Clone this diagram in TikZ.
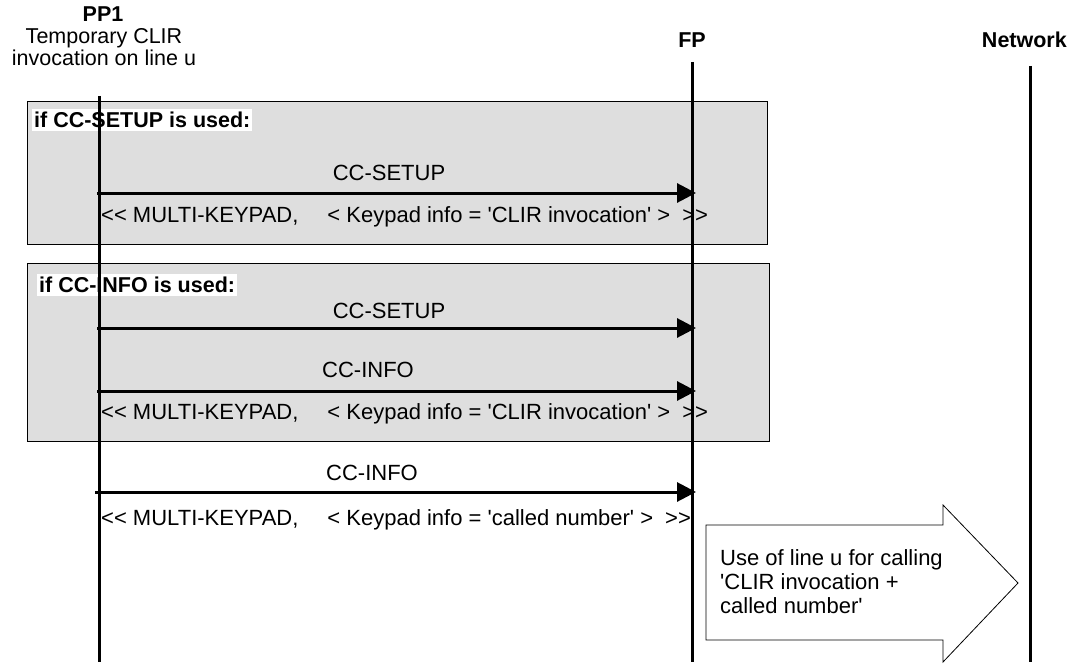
\documentclass[tikz,border=0pt]{standalone}
\usepackage{fontspec}
\setmainfont{Liberation Sans}[Ligatures=TeXOff]
\usetikzlibrary{arrows.meta}
\begin{document}
\begin{tikzpicture}[x=1pt,y=-1pt,
  txt/.style={font=\fontsize{22}{21.5}\selectfont, inner sep=0pt},
  head/.style={font=\fontsize{21.5}{21.5}\selectfont\bfseries, inner sep=0pt, align=center},
  life/.style={line width=3pt},
  grp/.style={draw=black, line width=0.8pt, fill=black!13},
  grplabel/.style={font=\fontsize{21.5}{21.5}\selectfont\bfseries, fill=white, inner xsep=2pt, inner ysep=3pt, anchor=west},
  msg/.style={line width=3pt, -{Triangle[length=19pt,width=19pt]}},
  bigarrow/.style={draw=black, line width=0.8pt, fill=white}]
\useasboundingbox (0,0) rectangle (1070,666);
% groups
\node[grp, minimum width=740pt, minimum height=143pt, anchor=north west, inner sep=0pt] (g1) at (27,101) {};
\node[grp, minimum width=742pt, minimum height=178pt, anchor=north west, inner sep=0pt] (g2) at (27,263) {};
\node[grplabel] (l1) at (32,120) {if CC-SETUP is used:\hspace{4pt}};
\node[grplabel] (l2) at (37,285) {if CC-INFO is used:\hspace{12pt}};
% headers
\node[head] (pp1) at (103,14) {PP1};
\node[font=\fontsize{21.5}{21.5}\selectfont, inner sep=0pt, align=center] (pp1d) at (104,47) {Temporary CLIR\\invocation on line u};
\node[head] (fp) at (692,40) {FP};
\node[head, anchor=east] (nw) at (1067,40) {Network};
% lifelines
\coordinate (pT) at (99,96);  \coordinate (pB) at (99,662);
\coordinate (fT) at (692,62); \coordinate (fB) at (692,662);
\coordinate (nT) at (1030,66); \coordinate (nB) at (1030,662);
\draw[life] (pT) -- (pB);
\draw[life] (fT) -- (fB);
\draw[life] (nT) -- (nB);
% messages
\coordinate (a1s) at (97,193); \coordinate (a1e) at (696,193);
\coordinate (a2s) at (97,328); \coordinate (a2e) at (696,328);
\coordinate (a3s) at (97,391); \coordinate (a3e) at (696,391);
\coordinate (a4s) at (95,492); \coordinate (a4e) at (696,492);
\draw[msg] (a1s) -- (a1e);
\draw[msg] (a2s) -- (a2e);
\draw[msg] (a3s) -- (a3e);
\draw[msg] (a4s) -- (a4e);
\node[txt] (m1) at (389,173) {CC-SETUP};
\node[txt, anchor=west] (p1) at (101,217) {<< MULTI-KEYPAD,\hspace{29pt}< Keypad info = 'CLIR invocation' >\hspace{12pt}>>};
\node[txt] (m2) at (389,311) {CC-SETUP};
\node[txt] (m3) at (368,370) {CC-INFO};
\node[txt, anchor=west] (p3) at (101,414) {<< MULTI-KEYPAD,\hspace{29pt}< Keypad info = 'CLIR invocation' >\hspace{12pt}>>};
\node[txt] (m4) at (372,473) {CC-INFO};
\node[txt, anchor=west] (p4) at (101,520) {<< MULTI-KEYPAD,\hspace{29pt}< Keypad info = 'called number' >\hspace{12pt}>>};
% big arrow
\draw[bigarrow] (706,525) -- (943,525) -- (943,505) -- (1018,583) -- (943,662) -- (943,640) -- (706,640) -- cycle;
\node[font=\fontsize{22}{24}\selectfont, inner sep=0pt, align=left, anchor=north west] (use) at (720,549) {Use of line u for calling\\'CLIR invocation +\\called number'};
\end{tikzpicture}
\end{document}
